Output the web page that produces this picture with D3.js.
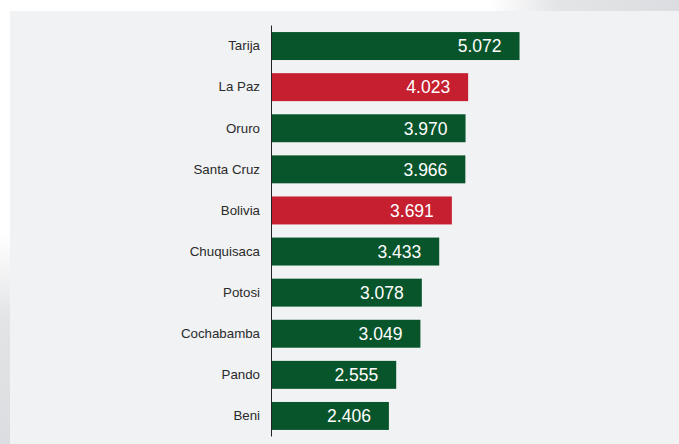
<!DOCTYPE html>
<html><head><meta charset="utf-8">
<script src="https://cdn.jsdelivr.net/npm/d3@7"></script>
<style>html,body{margin:0;padding:0;background:#fff;}svg{display:block;}</style>
</head><body>
<script>
const categories = ["Tarija","La Paz","Oruro","Santa Cruz","Bolivia","Chuquisaca","Potosi","Cochabamba","Pando","Beni"];
const values = [5.072,4.023,3.970,3.966,3.691,3.433,3.078,3.049,2.555,2.406];
const highlighted = ["La Paz","Bolivia"];
const valueLabels = ["5.072","4.023","3.970","3.966","3.691","3.433","3.078","3.049","2.555","2.406"];

const W = 679, H = 444;
const svg = d3.select("body").append("svg").attr("width", W).attr("height", H);
const defs = svg.append("defs");
const gTop = defs.append("linearGradient").attr("id","gTop").attr("x1","0").attr("x2","1").attr("y1","0").attr("y2","0");
gTop.append("stop").attr("offset","0").attr("stop-color","#ffffff");
gTop.append("stop").attr("offset","0.35").attr("stop-color","#e4e5e7");
gTop.append("stop").attr("offset","1").attr("stop-color","#dcdde0");
const gLeft = defs.append("linearGradient").attr("id","gLeft").attr("x1","0").attr("x2","0").attr("y1","0").attr("y2","1");
gLeft.append("stop").attr("offset","0").attr("stop-color","#ffffff");
gLeft.append("stop").attr("offset","0.4").attr("stop-color","#e3e4e6");
gLeft.append("stop").attr("offset","1").attr("stop-color","#dcdde0");

svg.append("rect").attr("x",0).attr("y",0).attr("width",W).attr("height",H).attr("fill","#ffffff");
svg.append("rect").attr("x",490).attr("y",0).attr("width",W-490).attr("height",11).attr("fill","url(#gTop)");
svg.append("rect").attr("x",0).attr("y",235).attr("width",10).attr("height",H-235).attr("fill","url(#gLeft)");
svg.append("rect").attr("x",10).attr("y",11).attr("width",W-10).attr("height",H-11).attr("fill","#f1f2f4");

const x = d3.scaleLinear().domain([0, 6]).range([271, 271 + 49*6]);
const y = d3.scaleBand().domain(categories).range([25.5, 436.5]).paddingInner(0.32).paddingOuter(0.16);

const data = categories.map((c,i)=>({c, v: values[i], t: valueLabels[i]}));

svg.append("g").selectAll("rect").data(data).join("rect")
  .attr("x", x(0)).attr("y", d=>y(d.c)).attr("width", d=>x(d.v)-x(0)).attr("height", y.bandwidth())
  .attr("fill", d=> highlighted.includes(d.c) ? "#c51f30" : "#08542b");

svg.append("g").selectAll("text").data(data).join("text")
  .attr("x", d=>x(d.v)-18).attr("y", d=>y(d.c)+y.bandwidth()/2).attr("dy","0.36em")
  .attr("text-anchor","end").attr("fill","#ffffff")
  .style("font-family","Arial, 'Liberation Sans', sans-serif").style("font-size","17.5px")
  .text(d=>d.t);

const axis = d3.axisLeft(y).tickSize(0).tickPadding(11);
const ga = svg.append("g").attr("transform",`translate(${x(0)},0)`).call(axis);
ga.select(".domain").attr("stroke","#222").attr("stroke-width",1).attr("d", `M0.5,25.5V436.5`);
ga.selectAll("text").style("font-family","Arial, 'Liberation Sans', sans-serif").style("font-size","13.3px").attr("fill","#2a2a2a");
</script>
</body></html>
